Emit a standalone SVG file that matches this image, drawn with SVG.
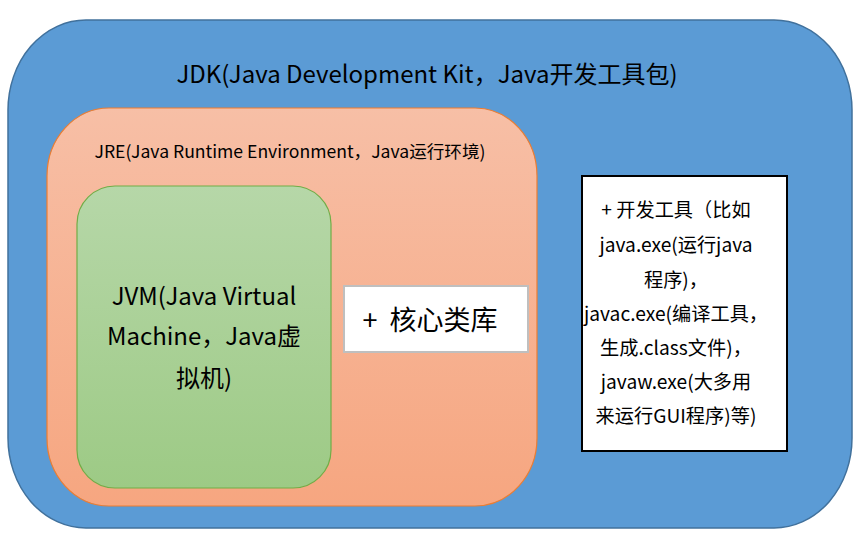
<svg xmlns="http://www.w3.org/2000/svg" width="865" height="545" viewBox="0 0 865 545">
<defs>
<linearGradient id="gJre" x1="0" y1="0" x2="0" y2="1">
<stop offset="0" stop-color="#F7BFA6"/>
<stop offset="1" stop-color="#F6A680"/>
</linearGradient>
<linearGradient id="gJvm" x1="0" y1="0" x2="0" y2="1">
<stop offset="0" stop-color="#B6D7A8"/>
<stop offset="1" stop-color="#9DCA85"/>
</linearGradient>
<style>
text{font-family:"Noto Sans CJK SC","Noto Sans",sans-serif;fill:#000;text-anchor:middle}
.t24{font-size:24px}
.t17{font-size:17.6px}
.t19{font-size:19.2px}
</style>
</defs>
<g id="jdk">
<rect x="8" y="20" width="844" height="508" rx="78" ry="90" fill="#5B9BD5" stroke="#41719C" stroke-width="1.5"/>
<text class="t24" x="427" y="83">JDK(Java Development Kit，Java开发工具包)</text>
</g>
<g id="jre">
<rect x="47" y="108" width="490" height="398" rx="62" ry="68" fill="url(#gJre)" stroke="#ED7D31" stroke-width="1.2"/>
<text class="t17" x="290" y="158">JRE(Java Runtime Environment，Java运行环境)</text>
</g>
<g id="jvm">
<rect x="77" y="186" width="254" height="302" rx="38" ry="38" fill="url(#gJvm)" stroke="#70AD47" stroke-width="1.2"/>
<text class="t24" x="204" y="305">JVM(Java Virtual</text>
<text class="t24" x="204" y="345">Machine，Java虚</text>
<text class="t24" x="204" y="387">拟机)</text>
</g>
<g id="corelib">
<rect x="344" y="286" width="184" height="66" fill="#FFFFFF" stroke="#BFBFBF" stroke-width="2"/>
<text x="430" y="330" style="font-size:27px" xml:space="preserve">+  核心类库</text>
</g>
<g id="tools">
<rect x="582" y="176" width="205" height="275" fill="#FFFFFF" stroke="#000000" stroke-width="2"/>
<text class="t19" x="676" y="217">+ 开发工具（比如</text>
<text class="t19" x="676" y="252">java.exe(运行java</text>
<text class="t19" x="676" y="287">程序)，</text>
<text class="t19" x="676" y="321">javac.exe(编译工具，</text>
<text class="t19" x="676" y="355">生成.class文件)，</text>
<text class="t19" x="676" y="389">javaw.exe(大多用</text>
<text class="t19" x="676" y="423">来运行GUI程序)等)</text>
</g>
<g id="connectors"/>
</svg>
